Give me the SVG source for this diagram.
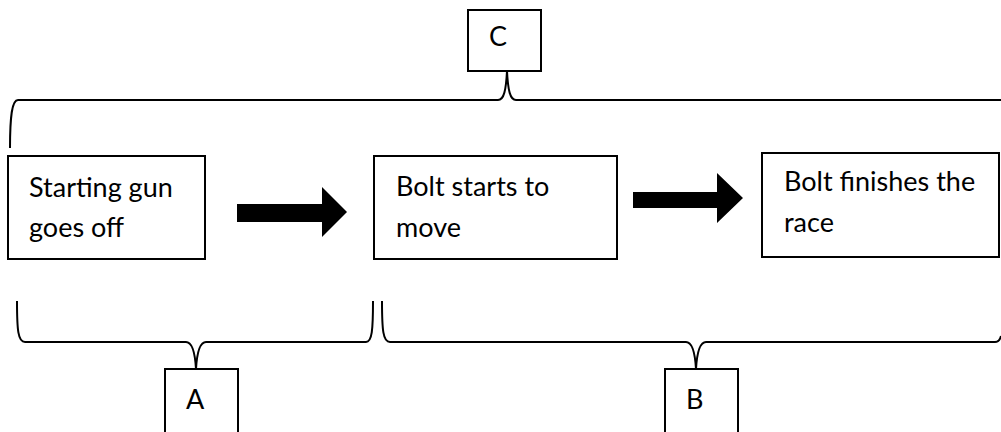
<svg xmlns="http://www.w3.org/2000/svg" width="1001" height="432" viewBox="0 0 1001 432">
  <style>
    .box { fill: #ffffff; stroke: #000000; stroke-width: 2; }
    .brace { fill: none; stroke: #000000; stroke-width: 2; stroke-linejoin: round; }
    .arrow { fill: #000000; stroke: none; }
    .label { font-family: Lato, "Open Sans", "Liberation Sans", sans-serif; font-size: 27px; fill: #000000; }
  </style>
  <rect width="1001" height="432" fill="#ffffff"/>

  <!-- braces and block arrows -->
  <g id="connectors">
    <!-- top brace spanning all three steps, pointing up to C -->
    <path class="brace" d="M10,148 C10,116 12,100 18,100 L498,100 C504,100 506,90 507,71 C508,90 510,100 516,100 L1001,100"/>
    <!-- brace under steps 1-2, pointing down to A -->
    <path class="brace" d="M17,301 C17,330 18,342 25,342 L186,342 C192,342 195,352 196,369 C197,352 200,342 206,342 L366,342 C372,342 373,330 373,301"/>
    <!-- brace under steps 2-3, pointing down to B -->
    <path class="brace" d="M382,301 C382,330 383,342 390,342 L686,342 C692,342 695,352 696,369 C697,352 700,342 706,342 L995,342 C998,342 1000,340 1001,336"/>
    <polygon class="arrow" points="237,204 322,204 322,187 347,212 322,237 322,222 237,222"/>
    <polygon class="arrow" points="633,192 717,192 717,173 743,198 717,223 717,208 633,208"/>
  </g>

  <g id="step1">
    <rect class="box" x="8" y="156" width="197" height="103"/>
    <text class="label" x="29" y="197">Starting gun</text>
    <text class="label" x="29" y="237">goes off</text>
  </g>

  <g id="step2">
    <rect class="box" x="374" y="156" width="243" height="103"/>
    <text class="label" x="396" y="196">Bolt starts to</text>
    <text class="label" x="396" y="237">move</text>
  </g>

  <g id="step3">
    <rect class="box" x="762" y="153" width="237" height="104"/>
    <text class="label" x="784" y="191">Bolt finishes the</text>
    <text class="label" x="784" y="232">race</text>
  </g>

  <g id="labelC">
    <rect class="box" x="468" y="10" width="73" height="61"/>
    <text class="label" x="489" y="46">C</text>
  </g>

  <g id="labelA">
    <rect class="box" x="165" y="369" width="73" height="70"/>
    <text class="label" x="186" y="409">A</text>
  </g>

  <g id="labelB">
    <rect class="box" x="665" y="369" width="73" height="70"/>
    <text class="label" x="686" y="409">B</text>
  </g>
</svg>
